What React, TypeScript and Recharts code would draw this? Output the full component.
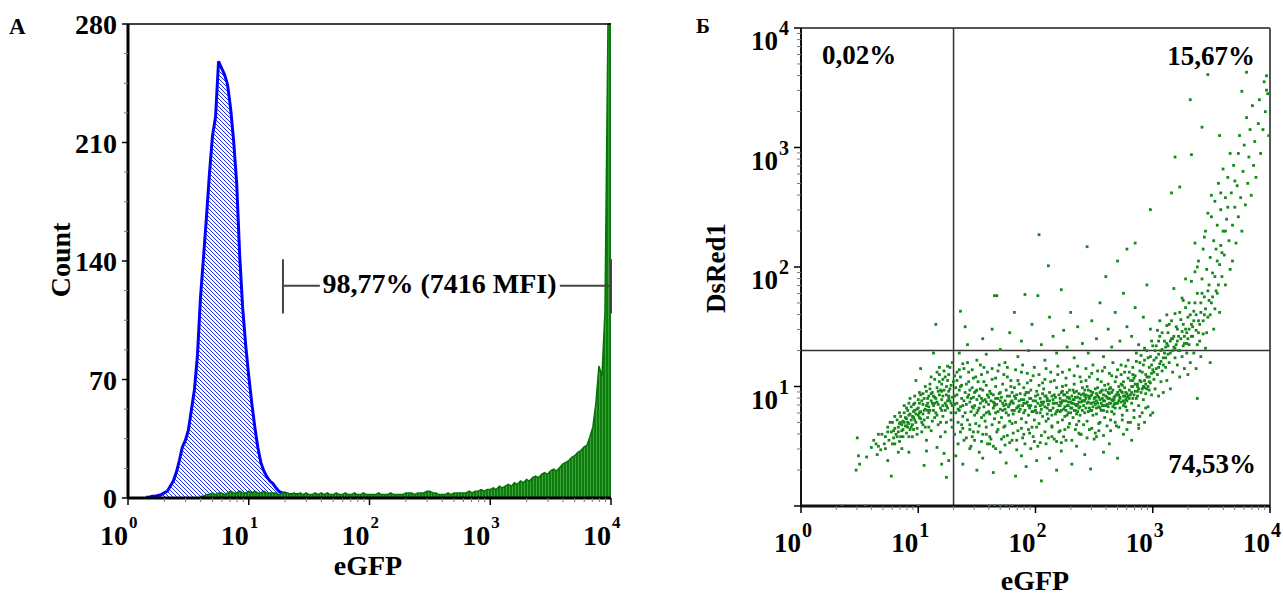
import {
  ComposedChart,
  ScatterChart,
  Area,
  Scatter,
  XAxis,
  YAxis,
  ReferenceLine,
} from 'recharts'

const FONT = '"Liberation Serif", "Times New Roman", serif'

// log-decade ticks shared by both panels
const LOG_TICKS = [
  1, 2, 3, 4, 5, 6, 7, 8, 9, 10, 20, 30, 40, 50, 60, 70, 80, 90, 100, 200, 300, 400, 500, 600, 700, 800, 900,
  1000, 2000, 3000, 4000, 5000, 6000, 7000, 8000, 9000, 10000,
]
const DECADES = [1, 10, 100, 1000, 10000]
const COUNT_TICKS = [0, 17.5, 35, 52.5, 70, 87.5, 105, 122.5, 140, 157.5, 175, 192.5, 210, 227.5, 245, 262.5, 280]
const COUNT_LABELS = [0, 70, 140, 210, 280]

// histogram channels: 0.025 decade wide, channel 0 = 10^0
const CHANNEL_WIDTH = 0.025
const CHANNEL_COUNT = 161

// negative control (blue), starts at channel 6 (10^0.15)
const CONTROL_FIRST = 6
const controlCounts = [
  0.5, 0.5, 1, 1, 1.5, 2, 3, 4, 7, 10,
  15, 22, 30, 34, 40, 52, 64, 84, 118, 142,
  166, 192, 214, 225, 258, 254, 250, 244, 230, 211,
  186, 143, 112, 90, 72, 56, 42, 30, 21, 16,
  12.5, 10, 8.5, 6, 4, 3, 3, 2, 2, 2,
  2, 1.5, 1.5, 1, 1, 1, 1, 1, 0.5, 0.5,
  1, 0.5, 0.5, 0.5, 0.5, 0,
]

// eGFP transduced cells (green), starts at channel 24 (10^0.6)
const EGFP_FIRST = 24
const egfpCounts = [
  1, 1, 2, 2, 3, 2, 3, 3, 2, 3,
  4, 3, 3, 4, 3, 3, 4, 3, 4, 3,
  3, 4, 3, 3, 3, 3, 2, 3, 3, 3,
  2, 3, 2, 3, 2, 3, 2, 2, 3, 2,
  3, 2, 3, 2, 2, 3, 2, 2, 3, 2,
  2, 3, 2, 2, 3, 2, 2, 2, 2, 3,
  2, 2, 2, 3, 2, 2, 2, 2, 3, 3,
  3, 2, 3, 3, 3, 4, 4, 3, 3, 2,
  2, 2, 3, 2, 3, 3, 3, 3, 3, 4,
  3, 4, 4, 5, 4, 5, 5, 6, 5, 7,
  6, 7, 8, 7, 9, 8, 10, 9, 11, 10,
  12, 13, 12, 14, 15, 14, 16, 17, 16, 18,
  20, 21, 22, 24, 25, 27, 28, 30, 31, 36,
  42, 56, 78, 72, 110, 280, 280,
]

// scatter cells as [log10 eGFP, log10 DsRed1]
const tailCells = [
  [.72,.58],[.74,.66],[.75,.55],[.77,.62],[.78,.70],[.79,.57],[.80,.65],[.81,.60],[.82,.72],[.83,.66],
  [.84,.54],[.84,.69],[.85,.75],[.86,.63],[.87,.71],[.87,.58],[.88,.78],[.89,.67],[.90,.73],[.90,.61],
  [.91,.80],[.92,.69],[.92,.76],[.93,.64],[.94,.83],[.94,.72],[.95,.68],[.96,.79],[.96,.74],[.97,.86],
  [.98,.70],[.98,.77],[.99,.65],[1.00,.82],[1.00,.89],[1.01,.74],[1.02,.79],[1.02,.93],[1.03,.70],[1.04,.85],
  [1.04,.77],[1.05,.90],[1.06,.81],[1.06,.66],[1.07,.96],[1.08,.86],[1.08,.74],[1.09,.92],[1.10,.80],[1.10,1.02],
  [1.11,.88],[1.12,.71],[1.12,.95],[1.13,.84],[1.14,1.06],[1.14,.91],[1.15,.78],[1.16,.99],[1.16,.87],[1.17,.68],
  [1.18,1.10],[1.18,.93],[1.19,.82],[1.20,1.02],[1.20,.89],[1.21,.75],[1.22,.97],[1.22,1.13],[1.23,.86],[1.24,.93],
  [1.24,.70],[1.25,1.05],[1.25,.82],[1.26,.96],[1.27,1.16],[1.27,.88],[1.28,.78],[1.28,1.01],[1.29,.91],[1.29,.66],
  [.88,.84],[.95,.58],[1.03,.62],[.80,.52],[1.11,.63],[1.19,.58],[.93,.90],[1.07,.55],[.97,.80],[1.05,.72],
  [1.13,.92],[1.21,.84],[1.26,.90],[.86,.68],[.91,.66],[1.01,.86],[1.09,.83],[1.17,.96],[1.23,1.08],[1.28,.86],
  [.62,.55],[.66,.50],[.69,.60],[.72,.48],[.74,.62],[.76,.70],[.78,.52],[.80,.75],[.83,.62],[.85,.58],
  [.88,.70],[.90,.82],[.92,.58],[.94,.66],[.97,.92],[.99,.60],[1.01,.95],[1.04,.68],[1.06,1.00],[1.09,.66],
  [1.11,1.08],[1.14,.74],[1.16,1.12],[1.19,.70],[1.21,1.06],[1.23,.62],[1.26,1.10],[1.28,.72],[1.30,1.04],[1.29,1.20],
  [.96,.64],[1.00,.76],[1.04,.94],[1.08,.80],[1.12,.86],[1.16,.76],[1.20,.96],[1.24,.84],[.84,.78],[.92,.86],
]

const bandCells = [
  [1.31,.92],[1.32,.78],[1.33,1.05],[1.33,.86],[1.34,.70],[1.35,.97],[1.35,1.14],[1.36,.83],[1.36,.62],[1.37,.90],
  [1.37,1.01],[1.38,.75],[1.38,1.19],[1.39,.88],[1.39,.55],[1.40,.95],[1.34,.81],[1.31,1.09],[1.37,.68],[1.32,.99],
  [1.41,.85],[1.41,1.02],[1.42,.72],[1.43,.93],[1.43,1.12],[1.44,.64],[1.44,.87],[1.45,.79],[1.46,.99],[1.46,.58],
  [1.47,.91],[1.47,1.07],[1.48,.76],[1.48,.84],[1.49,.69],[1.49,.96],[1.42,1.20],[1.45,.50],[1.47,.82],[1.50,.89],
  [1.51,.80],[1.51,1.04],[1.52,.67],[1.52,.92],[1.53,.86],[1.54,.74],[1.54,1.10],[1.55,.97],[1.55,.60],[1.56,.83],
  [1.57,.89],[1.57,.71],[1.58,1.01],[1.58,.78],[1.59,.93],[1.59,.52],[1.53,.98],[1.56,1.16],[1.60,.85],[1.52,.45],
  [1.61,.77],[1.61,.96],[1.62,.88],[1.63,.68],[1.63,1.06],[1.64,.82],[1.64,.93],[1.65,.73],[1.66,.90],[1.66,1.00],
  [1.67,.62],[1.67,.85],[1.68,.79],[1.68,1.13],[1.69,.94],[1.69,.70],[1.62,.56],[1.65,.86],[1.70,.81],[1.66,.48],
  [1.71,.91],[1.71,.74],[1.72,1.02],[1.73,.84],[1.73,.66],[1.74,.88],[1.75,.97],[1.75,.78],[1.76,.59],[1.76,1.08],
  [1.77,.83],[1.78,.92],[1.78,.71],[1.79,.87],[1.79,1.00],[1.72,.80],[1.74,.51],[1.77,.76],[1.80,.95],[1.80,.69],
  [1.81,.86],[1.81,.77],[1.82,.99],[1.83,.70],[1.83,.90],[1.84,.82],[1.85,1.05],[1.85,.63],[1.86,.88],[1.86,.79],
  [1.87,.94],[1.88,.73],[1.88,1.12],[1.89,.84],[1.89,.57],[1.82,.92],[1.84,.47],[1.87,.81],[1.90,.89],[1.90,.99],
  [1.91,.80],[1.91,.93],[1.92,.70],[1.93,.87],[1.93,1.03],[1.94,.76],[1.95,.90],[1.95,.61],[1.96,.84],[1.96,.97],
  [1.97,.79],[1.98,1.09],[1.98,.88],[1.99,.72],[1.99,.54],[1.92,.86],[1.94,.95],[1.97,.66],[2.00,.83],[2.00,.92],
  [2.01,.78],[2.01,.96],[2.02,.86],[2.03,.69],[2.03,1.01],[2.04,.90],[2.05,.81],[2.05,.59],[2.06,.94],[2.06,.75],
  [2.07,.87],[2.08,1.06],[2.08,.83],[2.09,.71],[2.09,.92],[2.02,.50],[2.04,.84],[2.07,.98],[2.10,.77],[2.10,.88],
  [2.11,.85],[2.11,.73],[2.12,.95],[2.13,.80],[2.13,1.04],[2.14,.66],[2.15,.89],[2.15,.82],[2.16,.93],[2.16,.56],
  [2.17,.77],[2.18,.99],[2.18,.86],[2.19,.70],[2.19,1.10],[2.12,.88],[2.14,.76],[2.17,.91],[2.20,.84],[2.20,.62],
  [2.21,.90],[2.21,.79],[2.22,.86],[2.23,1.00],[2.23,.72],[2.24,.93],[2.25,.83],[2.25,.64],[2.26,.88],[2.26,1.07],
  [2.27,.76],[2.28,.91],[2.28,.84],[2.29,.97],[2.29,.69],[2.22,.53],[2.24,.81],[2.27,.95],[2.30,.87],[2.30,.78],
  [2.31,.92],[2.31,.82],[2.32,.74],[2.33,.89],[2.33,1.02],[2.34,.85],[2.35,.96],[2.35,.68],[2.36,.79],[2.36,.91],
  [2.37,.87],[2.38,1.08],[2.38,.76],[2.39,.93],[2.39,.60],[2.32,.97],[2.34,.80],[2.37,.71],[2.40,.88],[2.40,.99],
  [2.41,.84],[2.41,.94],[2.42,.78],[2.43,.90],[2.43,1.05],[2.44,.71],[2.45,.87],[2.45,.97],[2.46,.82],[2.46,.64],
  [2.47,.92],[2.48,1.11],[2.48,.86],[2.49,.76],[2.49,.95],[2.42,.88],[2.44,1.00],[2.47,.80],[2.50,.90],[2.50,.56],
  [2.51,.85],[2.51,.98],[2.52,.77],[2.53,.92],[2.53,1.06],[2.54,.83],[2.55,.89],[2.55,.70],[2.56,.96],[2.56,.86],
  [2.57,1.13],[2.58,.80],[2.58,.93],[2.59,.74],[2.59,1.01],[2.52,.88],[2.54,.63],[2.57,.90],[2.60,.84],[2.60,.97],
  [2.61,.91],[2.61,.79],[2.62,1.02],[2.63,.86],[2.63,.94],[2.64,.72],[2.65,.89],[2.65,1.09],[2.66,.83],[2.66,.97],
  [2.67,.77],[2.68,.92],[2.68,1.04],[2.69,.86],[2.69,.67],[2.62,.90],[2.64,.99],[2.67,.85],[2.70,.95],[2.70,1.14],
  [2.71,.88],[2.71,1.00],[2.72,.82],[2.73,.96],[2.73,1.10],[2.74,.76],[2.75,.92],[2.75,1.04],[2.76,.86],[2.76,.99],
  [2.77,1.17],[2.78,.80],[2.78,.94],[2.79,1.07],[2.79,.70],[2.72,.91],[2.74,1.01],[2.77,.89],[2.80,.97],[2.80,1.12],
  [2.81,.93],[2.81,1.05],[2.82,.86],[2.83,1.00],[2.83,1.16],[2.84,.80],[2.85,.96],[2.85,1.09],[2.86,.90],[2.86,1.21],
  [2.87,1.02],[2.88,.84],[2.88,.98],[2.89,1.13],[2.89,.75],[2.82,.95],[2.84,1.07],[2.87,.92],[2.90,1.04],[2.90,1.26],
  [2.91,.98],[2.91,1.12],[2.92,.89],[2.93,1.05],[2.93,1.22],[2.94,.94],[2.95,1.08],[2.95,1.30],[2.96,1.00],[2.96,.83],
  [2.97,1.16],[2.98,1.03],[2.98,1.25],[2.99,.93],[2.99,1.11],[2.92,1.18],[2.94,1.02],[2.97,.97],[3.00,1.14],[3.00,1.34],
  [2.21,.84],[2.23,.88],[2.26,.80],[2.28,.87],[2.31,.86],[2.33,.80],[2.36,.85],[2.38,.90],[2.41,.88],[2.43,.82],
  [2.46,.90],[2.48,.93],[2.51,.91],[2.53,.86],[2.56,.80],[2.58,.88],[2.61,.85],[2.63,.90],[2.66,.88],[2.68,.82],
  [2.71,.93],[2.73,.87],[2.76,.92],[2.78,.88],[2.22,.95],[2.27,.91],[2.32,.89],[2.37,.94],[2.42,.97],[2.47,.86],
  [2.52,.94],[2.57,.97],[2.62,.95],[2.67,.91],[2.72,.97],[2.77,.95],[2.25,.75],[2.35,.77],[2.45,.79],[2.55,.82],
  [2.65,.79],[2.75,.84],[1.45,.90],[1.55,.88],[1.65,.84],[1.75,.85],[1.85,.83],[1.95,.82],[2.05,.87],[2.15,.86],
  [1.50,.78],[1.60,.91],[1.70,.88],[1.80,.80],[1.90,.86],[2.00,.80],[2.10,.90],[2.19,.80],[2.83,.90],[2.87,1.00],
  [2.93,.99],[2.97,1.08],
]

// extra cells where the reference is densest
const coreCells = [
  [.79,.63],[.82,.58],[.85,.70],[.87,.64],[.89,.74],[.91,.70],[.93,.77],[.95,.75],[.97,.72],[.99,.81],
  [1.01,.78],[1.03,.88],[1.05,.80],[1.07,.84],[1.09,.78],[1.11,.94],[1.13,.80],[1.15,.90],[1.17,.85],[1.19,.97],
  [1.21,.92],[1.23,.80],[1.25,.88],[1.27,.98],[1.29,.84],[.90,.67],[.96,.85],[1.02,.73],[1.08,.90],[1.14,.86],
  [1.20,.80],[1.26,.92],[1.18,1.04],[1.24,1.00],[1.10,.98],
  [1.31,.85],[1.33,.93],[1.35,.80],[1.36,1.00],[1.38,.84],[1.40,.78],[1.42,.91],[1.44,.97],[1.46,.83],[1.48,.95],
  [1.50,.97],[1.52,.82],[1.54,.90],[1.56,.76],[1.58,.87],[1.60,.79],[1.62,.94],[1.64,.87],[1.66,.78],[1.68,.90],
  [1.70,.95],[1.72,.86],[1.74,.81],[1.76,.92],[1.78,.85],[1.80,.88],[1.82,.80],[1.84,.93],[1.86,.84],[1.88,.89],
  [1.90,.78],[1.92,.95],[1.94,.84],[1.96,.90],[1.98,.79],[2.00,.88],[2.02,.93],[2.04,.78],[2.06,.85],[2.08,.92],
  [2.10,.82],[2.12,.80],[2.14,.92],[2.16,.86],[2.18,.79],[2.20,.93],
  [2.21,.87],[2.22,.80],[2.24,.88],[2.25,.93],[2.27,.84],[2.29,.90],[2.30,.82],[2.32,.86],[2.34,.91],[2.35,.84],
  [2.37,.82],[2.39,.87],[2.40,.80],[2.42,.92],[2.44,.86],[2.45,.92],[2.47,.96],[2.49,.83],[2.50,.87],[2.52,.82],
  [2.54,.91],[2.55,.95],[2.57,.84],[2.59,.88],[2.60,.92],[2.62,.83],[2.64,.86],[2.65,.95],[2.67,.89],[2.69,.93],
  [2.70,.86],[2.72,.90],[2.74,.95],[2.75,.88],[2.77,.83],[2.79,.92],[2.80,.90],[2.82,1.00],[2.84,.93],[2.85,1.02],
  [2.87,.96],[2.89,1.05],[2.90,.95],[2.92,1.00],[2.94,1.10],[2.95,.98],[2.97,1.04],[2.99,1.18],[2.23,.96],[2.33,.95],
  [2.43,.93],[2.53,.99],[2.63,.98],[2.73,1.02],[2.83,1.05],[2.28,.78],[2.38,.83],[2.48,.80],[2.58,.84],[2.68,.86],
  [2.78,.91],
  [3.01,1.12],[3.03,1.24],[3.05,1.16],[3.07,1.30],[3.09,1.18],[3.11,1.24],[3.13,1.34],[3.15,1.28],[3.17,1.40],[3.19,1.32],
  [3.21,1.38],[3.23,1.30],[3.25,1.46],[3.27,1.42],[3.29,1.36],[3.31,1.48],[3.33,1.42],[3.35,1.55],[3.37,1.60],[3.39,1.45],
  [3.41,1.70],[3.43,1.55],[3.45,1.65],[3.47,1.80],[3.49,1.60],[3.51,1.75],[3.53,1.92],[3.55,1.78],[3.57,2.02],[3.59,2.12],
]

// outer rim of the main band (upper and lower edges)
const rimCells = [
  [1.31,.60],[1.33,1.12],[1.34,.52],[1.36,1.08],[1.38,.65],[1.39,1.15],[1.41,.57],[1.43,1.04],[1.44,.68],[1.46,1.14],
  [1.48,.55],[1.49,1.08],[1.51,.62],[1.53,1.18],[1.54,.54],[1.56,1.04],[1.58,.66],[1.59,1.12],[1.61,.58],[1.63,1.15],
  [1.64,.50],[1.66,1.07],[1.68,.64],[1.69,1.18],[1.71,.56],[1.73,1.10],[1.74,.67],[1.76,1.16],[1.78,.53],[1.79,1.05],
  [1.81,.61],[1.83,1.14],[1.84,.55],[1.86,1.02],[1.88,.65],[1.89,1.18],[1.91,.52],[1.93,1.11],[1.94,.64],[1.96,1.05],
  [1.98,.58],[1.99,1.16],[2.01,.66],[2.03,1.10],[2.04,.53],[2.06,1.03],[2.08,.62],[2.09,1.15],[2.11,.57],[2.13,1.12],
  [2.14,.67],[2.16,1.05],[2.18,.54],[2.19,1.17],[2.21,.63],[2.23,1.12],[2.24,.58],[2.26,1.01],[2.28,.66],[2.29,1.14],
  [2.31,.55],[2.33,1.09],[2.34,.64],[2.36,1.17],[2.38,.60],[2.39,1.04],[2.41,.68],[2.43,1.15],[2.44,.57],[2.46,1.08],
  [2.48,.65],[2.49,1.18],[2.51,.61],[2.53,1.13],[2.54,.69],[2.56,1.04],[2.58,.59],[2.59,1.16],[2.61,.67],[2.63,1.11],
  [2.64,.63],[2.66,1.20],[2.68,.70],[2.69,1.08],[2.71,.66],[2.73,1.18],[2.74,.72],[2.76,1.12],[2.78,.64],[2.79,1.22],
  [2.81,.70],[2.83,1.10],[2.84,.74],[2.86,1.28],[2.88,.68],[2.89,1.20],[2.91,.78],[2.93,1.32],[2.94,.82],[2.96,1.24],
  [2.98,.76],[2.99,1.38],
]

const armCells = [
  [3.01,1.06],[3.01,1.22],[3.02,.98],[3.03,1.15],[3.03,1.34],[3.04,1.10],[3.05,.92],[3.05,1.27],[3.06,1.19],[3.06,1.42],
  [3.07,1.04],[3.08,1.31],[3.08,1.13],[3.09,1.24],[3.09,.95],[3.10,1.38],[3.04,1.47],[3.07,1.21],
  [3.11,1.16],[3.11,1.33],[3.12,1.05],[3.13,1.27],[3.13,1.45],[3.14,1.20],[3.15,1.38],[3.15,.98],[3.16,1.55],[3.17,1.30],
  [3.17,1.12],[3.18,1.42],[3.19,1.24],[3.19,1.61],[3.20,1.35],[3.12,1.51],
  [3.21,1.18],[3.21,1.48],[3.22,1.30],[3.23,1.62],[3.23,1.08],[3.24,1.40],[3.25,1.25],[3.25,1.74],[3.26,1.52],[3.27,1.15],
  [3.27,1.36],[3.28,1.66],[3.29,1.28],[3.29,1.45],[3.30,1.58],[3.30,1.10],
  [3.31,1.35],[3.31,1.70],[3.32,1.20],[3.33,1.52],[3.33,1.88],[3.34,1.42],[3.35,1.28],[3.35,1.63],[3.36,1.96],[3.37,1.47],
  [3.37,1.15],[3.38,1.78],[3.38,.90],[3.39,1.55],[3.39,2.05],[3.40,1.38],
  [3.41,1.25],[3.41,1.62],[3.42,1.90],[3.43,1.44],[3.43,2.15],[3.44,1.75],[3.45,1.32],[3.45,2.30],[3.46,1.98],[3.47,1.58],
  [3.47,2.45],[3.48,1.85],[3.49,2.08],[3.49,1.20],[3.50,2.60],[3.50,1.70],
  [3.51,1.95],[3.52,2.22],[3.52,1.48],[3.53,2.55],[3.54,1.80],[3.55,2.35],[3.55,2.05],[3.56,2.70],[3.57,1.62],[3.58,2.18],
  [3.58,2.48],[3.59,1.92],[3.60,2.82],[3.60,2.30],
  [3.61,2.10],[3.62,2.58],[3.62,1.85],[3.63,2.40],[3.64,2.75],[3.65,2.22],[3.66,2.95],[3.66,1.98],[3.67,2.62],[3.68,2.35],
  [3.69,2.85],[3.70,2.50],
  [3.71,2.20],[3.72,2.68],[3.73,2.95],[3.73,2.42],[3.74,3.10],[3.75,2.58],[3.76,2.30],[3.77,2.80],[3.78,3.02],[3.79,2.52],
  [3.80,3.25],[3.81,2.70],[3.82,2.92],[3.83,3.15],[3.84,2.60],[3.85,3.35],[3.86,2.85],[3.87,3.05],[3.88,2.75],[3.90,3.20],
  [3.91,3.40],[3.92,2.95],[3.94,3.15],[3.95,3.55],[3.96,3.30],[3.98,3.45],[3.99,3.10],[3.97,3.60],
  [3.02,1.30],[3.05,1.38],[3.08,1.45],[3.10,1.28],[3.12,1.36],[3.14,1.52],[3.16,1.40],[3.18,1.33],[3.20,1.50],[3.22,1.42],
  [3.24,1.56],[3.26,1.34],[3.28,1.48],[3.30,1.40],[3.32,1.60],[3.34,1.50],[3.36,1.70],[3.38,1.35],[3.40,1.52],[3.42,1.78],
  [3.44,1.60],[3.46,1.45],[3.48,1.72],[3.53,1.65],[3.56,1.85],[3.12,1.60],[3.06,1.55],[3.26,1.72],[3.18,1.82],[3.38,2.00],
  [3.28,1.90],[3.44,2.25],[3.36,2.20],[3.50,2.42],[3.58,2.62],[3.64,2.50],[3.70,2.72],[3.68,2.05],[3.54,2.15],[3.62,2.30],
]

const sparseCells = [
  [.48,.57],[.49,.42],[.50,.35],[.47,.30],[.64,.52],[.65,.43],[.77,.25],[.71,.52],[.68,.47],[.60,.49],
  [.56,.41],[.74,.38],[.83,.45],[.66,.60],[1.05,.34],[1.07,.46],[1.16,.49],[1.20,.35],[1.24,.24],[1.26,.38],
  [1.22,.44],[1.15,1.52],[1.13,1.28],[1.02,1.15],[.98,1.05],[.92,.45],[.86,.48],[1.18,1.16],[1.25,1.17],
  [1.35,1.28],[1.42,1.35],[1.50,1.22],[1.55,1.40],[1.58,1.27],[1.63,1.48],[1.67,1.76],[1.70,1.31],[1.74,1.20],[1.78,1.45],
  [1.82,1.62],[1.85,1.25],[1.88,1.38],[1.91,1.77],[1.94,1.30],[1.97,1.52],[2.02,1.76],[2.03,2.27],[2.05,1.35],[2.08,1.22],
  [2.11,2.01],[2.12,1.58],[2.15,1.42],[2.18,1.28],[2.22,1.81],[2.24,1.47],[2.27,1.33],[2.30,1.62],[2.33,1.24],[2.36,1.50],
  [2.40,1.36],[2.44,2.17],[2.45,1.28],[2.48,1.55],[2.52,1.40],[2.55,1.70],[2.58,1.25],[2.62,1.48],[2.65,1.33],[2.68,1.62],
  [2.72,1.38],[2.75,1.78],[2.78,1.50],[2.82,1.42],[2.85,1.66],[2.88,1.35],[2.92,1.58],[2.95,1.85],[2.98,1.48],[2.70,2.05],
  [2.85,2.20],[2.60,1.92],[1.36,1.63],[1.40,1.50],[1.65,1.76],
  [1.32,.42],[1.38,.35],[1.44,.48],[1.50,.30],[1.55,.40],[1.61,.52],[1.64,.28],[1.70,.45],[1.75,.36],[1.80,.55],
  [1.83,.25],[1.88,.42],[1.92,.33],[1.96,.48],[2.01,.38],[2.05,.21],[2.09,.52],[2.12,.40],[2.18,.30],[2.22,.46],
  [2.26,.55],[2.31,.35],[2.35,.50],[2.42,.43],[2.47,.31],[2.52,.58],[2.58,.45],[2.63,.52],[2.70,.40],[2.75,.60],
  [2.82,.55],[2.88,.65],[2.93,.70],[3.00,.78],[1.47,.62],[1.58,.60],[1.73,.58],[1.90,.60],[2.14,.58],[2.37,.61],
  [3.47,3.61],[3.80,3.63],[3.32,3.40],[3.76,3.47],[3.97,3.48],[3.19,2.92],[3.33,2.94],[2.98,2.48],[2.78,2.15],[3.16,2.62],
  [3.23,2.67],[3.42,3.17],[3.57,3.10],
  [.35,0],[.55,0],[1.0,0],[1.61,0],[1.65,0],[1.70,0],[1.75,0],[1.80,0],
]

const histRows = Array.from({ length: CHANNEL_COUNT }, (_, i) => {
  const c = controlCounts[i - CONTROL_FIRST]
  const g = egfpCounts[i - EGFP_FIRST]
  return {
    x: 10 ** (i * CHANNEL_WIDTH),
    control: c === undefined ? null : c,
    egfp: g === undefined ? null : g,
  }
})

const scatterRows = [...tailCells, ...bandCells, ...coreCells, ...rimCells, ...armCells, ...sparseCells].map(
  ([gx, ry]) => ({ x: 10 ** gx, y: 10 ** ry }),
)

const isDecade = (v: number) => DECADES.includes(v)

function DecadeLabel({ y, exp, baseDy, supDy, size, supSize, anchorEnd }: any) {
  return (
    <g fontFamily={FONT} fontWeight="bold" fill="#000">
      <text x={anchorEnd} y={y + baseDy} textAnchor="end" fontSize={size}>10</text>
      <text x={anchorEnd + 1} y={y + supDy} fontSize={supSize}>{exp}</text>
    </g>
  )
}

function HistXTick({ x, y, payload }: any) {
  const v = payload.value
  const major = isDecade(v)
  return (
    <g>
      <line x1={x} y1={y} x2={x} y2={y + (major ? 7 : 4)} stroke={major ? '#000' : '#777'} strokeWidth={major ? 1.5 : 1} />
      {major && (
        <DecadeLabel y={y} anchorEnd={x} exp={Math.round(Math.log10(v))} baseDy={47} supDy={30} size={28} supSize={17} />
      )}
    </g>
  )
}

function HistYTick({ x, y, payload }: any) {
  const v = payload.value
  const major = COUNT_LABELS.includes(v)
  return (
    <g>
      <line x1={x - (major ? 6 : 4)} y1={y} x2={x} y2={y} stroke={major ? '#000' : '#777'} strokeWidth={major ? 1.5 : 1} />
      {major && (
        <text x={x - 11} y={y + 10} textAnchor="end" fontFamily={FONT} fontWeight="bold" fontSize={28} fill="#000">
          {v}
        </text>
      )}
    </g>
  )
}

function DotXTick({ x, y, payload }: any) {
  const v = payload.value
  const major = isDecade(v)
  return (
    <g>
      <line x1={x} y1={y} x2={x} y2={y + (major ? 7 : 4)} stroke={major ? '#000' : '#777'} strokeWidth={major ? 1.5 : 1} />
      {major && (
        <DecadeLabel y={y} anchorEnd={x} exp={Math.round(Math.log10(v))} baseDy={46} supDy={31} size={27} supSize={20} />
      )}
    </g>
  )
}

function DotYTick({ x, y, payload }: any) {
  const v = payload.value
  const major = isDecade(v)
  return (
    <g>
      <line x1={x - (major ? 7 : 4)} y1={y} x2={x} y2={y} stroke={major ? '#000' : '#777'} strokeWidth={major ? 1.5 : 1} />
      {major && v > 1 && (
        <DecadeLabel y={y} anchorEnd={x - 23} exp={Math.round(Math.log10(v))} baseDy={22} supDy={7} size={27} supSize={20} />
      )}
    </g>
  )
}

const renderCell = (p: any) => (
  <rect x={p.cx - 1.4} y={p.cy - 1.4} width={2.8} height={2.8} fill="#14891a" />
)

function HistogramPanel() {
  return (
    <ComposedChart width={640} height={597} data={histRows} margin={{ top: 24, right: 29, bottom: 39, left: 68 }}>
      <defs>
        <pattern id="blueHatch" patternUnits="userSpaceOnUse" width={4} height={4}>
          <path d="M-1,-1 L5,5 M-1,3 L1,5 M3,-1 L5,1" stroke="#1d2be8" strokeWidth={1} />
        </pattern>
        <pattern id="greenBars" patternUnits="userSpaceOnUse" width={3} height={10}>
          <rect width={3} height={10} fill="#0b7d0b" />
          <rect x={2} width={1} height={10} fill="#3f9e3f" />
        </pattern>
      </defs>
      <XAxis
        dataKey="x"
        type="number"
        scale="log"
        domain={[1, 10000]}
        allowDataOverflow
        ticks={LOG_TICKS}
        interval={0}
        tick={(p: any) => <HistXTick {...p} />}
        tickLine={false}
        tickSize={0}
        tickMargin={0}
        axisLine={{ stroke: '#000', strokeWidth: 3 }}
        height={60}
      />
      <YAxis
        type="number"
        domain={[0, 280]}
        ticks={COUNT_TICKS}
        interval={0}
        tick={(p: any) => <HistYTick {...p} />}
        tickLine={false}
        tickSize={0}
        tickMargin={0}
        axisLine={{ stroke: '#000', strokeWidth: 3 }}
        width={60}
      />
      <Area
        dataKey="control"
        type="linear"
        stroke="#0000ff"
        strokeWidth={3}
        fill="url(#blueHatch)"
        fillOpacity={1}
        dot={false}
        activeDot={false}
        isAnimationActive={false}
      />
      <Area
        dataKey="egfp"
        type="linear"
        stroke="#067306"
        strokeWidth={1.5}
        fill="url(#greenBars)"
        fillOpacity={1}
        dot={false}
        activeDot={false}
        isAnimationActive={false}
      />
      <ReferenceLine y={280} stroke="#000" strokeWidth={1.5} />
      {/* eGFP+ gate */}
      <ReferenceLine segment={[{ x: 19.2, y: 109 }, { x: 19.2, y: 141 }]} stroke="#444" strokeWidth={2} />
      <ReferenceLine segment={[{ x: 19.2, y: 125.4 }, { x: 38.8, y: 125.4 }]} stroke="#444" strokeWidth={2} />
      <ReferenceLine segment={[{ x: 3770, y: 125.4 }, { x: 10000, y: 125.4 }]} stroke="#444" strokeWidth={2} />
      <ReferenceLine segment={[{ x: 10000, y: 109 }, { x: 10000, y: 141 }]} stroke="#444" strokeWidth={2} />
    </ComposedChart>
  )
}

function DotPlotPanel() {
  return (
    <ScatterChart width={623} height={597} margin={{ top: 28, right: 13, bottom: 31, left: 81 }}>
      <XAxis
        dataKey="x"
        type="number"
        scale="log"
        domain={[1, 10000]}
        allowDataOverflow
        ticks={LOG_TICKS}
        interval={0}
        tick={(p: any) => <DotXTick {...p} />}
        tickLine={false}
        tickSize={0}
        tickMargin={0}
        axisLine={{ stroke: '#111', strokeWidth: 3 }}
        height={60}
      />
      <YAxis
        dataKey="y"
        type="number"
        scale="log"
        domain={[1, 10000]}
        allowDataOverflow
        ticks={LOG_TICKS}
        interval={0}
        tick={(p: any) => <DotYTick {...p} />}
        tickLine={false}
        tickSize={0}
        tickMargin={0}
        axisLine={{ stroke: '#111', strokeWidth: 2 }}
        width={60}
      />
      <Scatter data={scatterRows} shape={renderCell} isAnimationActive={false} />
      <ReferenceLine y={10000} stroke="#555" strokeWidth={2} />
      <ReferenceLine x={10000} stroke="#555" strokeWidth={2} />
      <ReferenceLine x={20} stroke="#333" strokeWidth={1.5} />
      <ReferenceLine y={20} stroke="#333" strokeWidth={1.5} />
    </ScatterChart>
  )
}

export default function App() {
  const txt = { fontFamily: FONT, fontWeight: 'bold' as const, fill: '#000' }
  return (
    <div style={{ position: 'absolute', left: 0, top: 0, width: 1283, height: 597, background: '#fff' }}>
      <div style={{ position: 'absolute', left: 0, top: 0 }}>
        <HistogramPanel />
      </div>
      <div style={{ position: 'absolute', left: 660, top: 0 }}>
        <DotPlotPanel />
      </div>
      <svg width={1283} height={597} style={{ position: 'absolute', left: 0, top: 0, pointerEvents: 'none' }}>
        <text x={9} y={34} fontSize={23} {...txt}>А</text>
        <text x={696} y={33} fontSize={21} {...txt}>Б</text>
        <text transform="translate(70,260) rotate(-90)" textAnchor="middle" fontSize={28} {...txt}>Count</text>
        <text x={368} y={575} textAnchor="middle" fontSize={28} {...txt}>eGFP</text>
        <text x={439.5} y={293} textAnchor="middle" fontSize={28} {...txt}>98,77% (7416 MFI)</text>
        <text transform="translate(725,268) rotate(-90)" textAnchor="middle" fontSize={27} {...txt}>DsRed1</text>
        <text x={1035} y={590} textAnchor="middle" fontSize={28} {...txt}>eGFP</text>
        <text x={822} y={64} fontSize={27} {...txt}>0,02%</text>
        <text x={1255} y={65} textAnchor="end" fontSize={27} {...txt}>15,67%</text>
        <text x={1256} y={473} textAnchor="end" fontSize={27} {...txt}>74,53%</text>
      </svg>
    </div>
  )
}
